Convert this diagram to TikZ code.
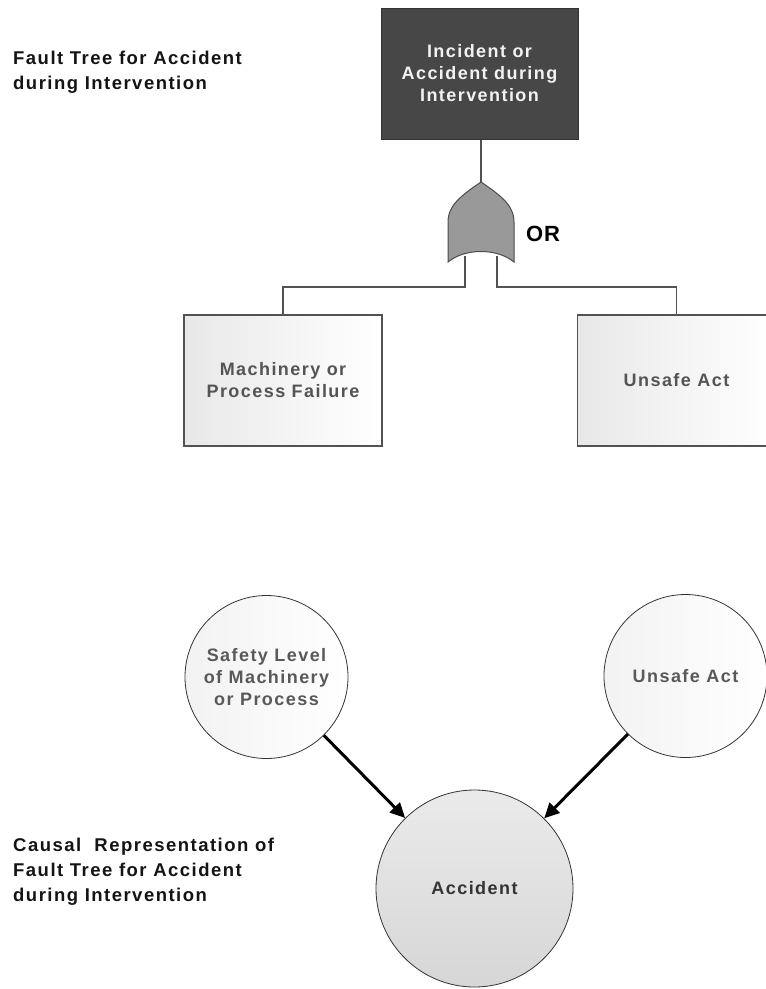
\documentclass[tikz,border=0pt]{standalone}
\usepackage{fontspec}
\setmainfont{Liberation Sans}
\newfontface\widebold{Liberation Sans Bold}[LetterSpace=8]
\newfontface\plainbold{Liberation Sans Bold}[LetterSpace=4]
\usetikzlibrary{arrows.meta}

\newcommand{\lblfont}{\widebold\fontsize{18}{22}\selectfont}
\newcommand{\headfont}{\widebold\fontsize{18.5}{25}\selectfont}

\begin{document}
\begin{tikzpicture}[x=1pt,y=-1pt,
  conn/.style={draw=black!68, line width=1.6pt},
  topbox/.style={draw=black!80, line width=1pt, fill=black!72,
    minimum width=197pt, minimum height=131pt, inner sep=0pt,
    align=center, text=black!5, font=\lblfont},
  evbox/.style={draw=black!68, line width=1.6pt, left color=black!9, right color=white,
    minimum width=198pt, minimum height=131pt, inner sep=0pt,
    align=center, text=black!67, font=\lblfont},
  cause/.style={circle, draw=black!80, line width=0.8pt, left color=black!5, right color=white,
    minimum size=163pt, inner sep=0pt, align=center, text=black!65, font=\lblfont},
  effect/.style={circle, draw=black!80, line width=0.8pt, top color=black!8, bottom color=black!16,
    minimum size=197pt, inner sep=0pt, align=center, text=black!80, font=\lblfont},
  gatefill/.style={fill=black!40, draw=black!70, line width=1pt},
  heading/.style={anchor=west, align=left, inner sep=0pt, text=black!92, font=\headfont},
  causal/.style={draw=black, line width=3pt, -{Triangle[length=15pt,width=14pt]}}
]
\useasboundingbox (0,0) rectangle (766,989);
\clip (0,0) rectangle (766,989);

% headings
\node[heading] (ftitle) at (13,72) {Fault Tree for Accident\\during Intervention};
\node[heading] (ctitle) at (13,872) {Causal\ \ Representation of\\Fault Tree for Accident\\during Intervention};

% fault tree events
\node[topbox] (top) at (479.5,73.5) {Incident or\\Accident during\\Intervention};
\node[evbox] (mach) at (283,380.5) {Machinery or\\Process Failure};
\node[evbox] (unsafe) at (676.5,380.5) {Unsafe Act};

% OR gate anchor points
\coordinate (gtop) at (481,182);
\coordinate (gL) at (465,256);
\coordinate (gR) at (497,256);

% connectors of the tree
\draw[conn] (top.south -| gtop) -- (gtop);
\draw[conn] (gL) -- ++(0,31) -| (mach.north);
\draw[conn] (gR) -- ++(0,31) -| (unsafe.north);

% OR gate body
\draw[gatefill] (gtop) .. controls (462,195) and (448,205) .. (448,222)
  -- (448,262) .. controls (465,248) and (497,248) .. (514,262)
  -- (514,222) .. controls (514,205) and (500,195) .. (gtop) -- cycle;
\node[anchor=west, inner sep=0pt, font=\plainbold\fontsize{22}{22}\selectfont] (orlbl) at (526,234) {OR};

% causal representation
\node[cause] (safety) at (266.5,677) {Safety Level\\of Machinery\\or Process};
\node[cause] (act) at (685.5,676) {Unsafe Act};
\node[effect] (acc) at (474.5,888.5) {Accident};

\draw[causal] (safety) -- (acc);
\draw[causal] (act) -- (acc);
\end{tikzpicture}
\end{document}
